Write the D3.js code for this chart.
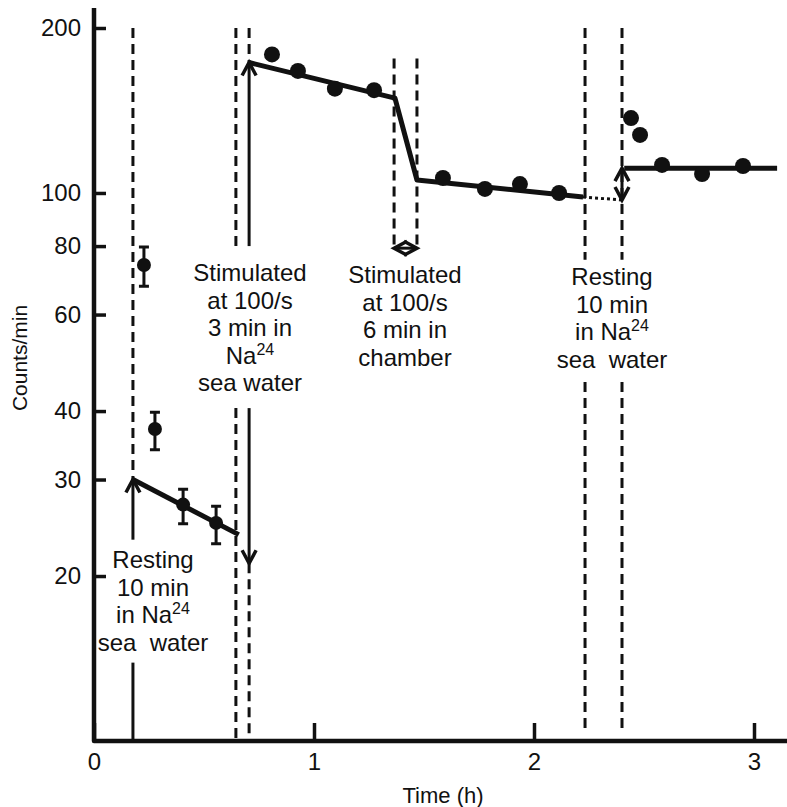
<!DOCTYPE html>
<html>
<head>
<meta charset="utf-8">
<script src="https://cdn.jsdelivr.net/npm/d3@7"></script>
<style>
body{margin:0;background:#fff;}
text{font-family:"Liberation Sans",Arial,sans-serif;fill:#111;}
</style>
</head>
<body>
<svg id="chart" width="787" height="807"></svg>
<script>
//data: time (h), counts/min
var restPts=[[0.227,73.9],[0.277,37.1],[0.405,27.0],[0.555,25.0]];
var restErr=[[67.6,79.7],[34.0,39.8],[24.9,28.8],[22.9,26.8]];
var stimPts=[[0.809,179],[0.927,167],[1.095,155],[1.273,154]];
var afterPts=[[1.586,106.5],[1.777,101.7],[1.936,103.8],[2.114,100.0]];
var rest2Pts=[[2.441,137],[2.482,127.6],[2.582,112.5],[2.764,108.3],[2.95,112]];
var fit1=[[0.177,30],[0.658,23.8]];
var fit2=[[0.705,173],[1.368,149],[1.468,105.6],[2.223,98.3]];
var fitGap=[[2.223,98.3],[2.4,97.1]];
var fit3=[[2.41,111],[3.105,111]];
var yTicks=[20,30,40,60,80,100,200];
var xTicks=[0,1,2,3];

//markers: [time, from, to]
var dashSegs=[[0.177,200,30],[0.645,200,80],[0.645,40.5,10],[0.705,200,173],[0.705,21.1,10],
  [1.364,176,80],[1.468,176,80],[2.232,200,75.5],[2.232,45.2,10.34],[2.4,200,75.5],[2.4,45.2,10.34]];
var solidSegs=[[0.177,13.9,10]];
var arrows=[[0.177,23.3,30],[0.705,80,173],[0.705,40.5,21.1]];
var dblArrowsV=[[2.4,97.1,111]];
var dblArrowsH=[[79.3,1.364,1.468]];

var note1=["Stimulated","at 100/s","3 min in","Na^24","sea water"];
var note2=["Stimulated","at 100/s","6 min in","chamber"];
var note3=["Resting","10 min","in Na^24","sea  water"];
var note4=["Resting","10 min","in Na^24","sea  water"];

var svg=d3.select("#chart");
var x=d3.scaleLinear().domain([0,3.15]).range([94,787]);
var y=d3.scaleLog().domain([10,200]).range([741,28]);

//dashed guides
svg.selectAll(".dash").data(dashSegs).enter().append("line")
  .attr("x1",function(d){return x(d[0]);}).attr("x2",function(d){return x(d[0]);})
  .attr("y1",function(d){return y(d[1]);}).attr("y2",function(d){return y(d[2]);})
  .attr("stroke","#111").attr("stroke-width",3).attr("stroke-dasharray","10,6");

svg.selectAll(".solid").data(solidSegs).enter().append("line")
  .attr("x1",function(d){return x(d[0]);}).attr("x2",function(d){return x(d[0]);})
  .attr("y1",function(d){return y(d[1]);}).attr("y2",function(d){return y(d[2]);})
  .attr("stroke","#111").attr("stroke-width",3);

//fitted lines
var line=d3.line().x(function(d){return x(d[0]);}).y(function(d){return y(d[1]);});
[fit1,fit2,fit3].forEach(function(f){
  svg.append("path").attr("d",line(f)).attr("fill","none").attr("stroke","#111")
    .attr("stroke-width",5).attr("stroke-linejoin","round");
});
svg.append("path").attr("d",line(fitGap)).attr("fill","none").attr("stroke","#111")
  .attr("stroke-width",3).attr("stroke-dasharray","3,3");

//arrows
function head(px,py,dx,dy){
  //chevron with tip at px,py pointing along dx,dy
  var nx=-dy,ny=dx,l=13,w=7;
  svg.append("path")
    .attr("d","M"+(px-dx*l+nx*w)+","+(py-dy*l+ny*w)+"L"+px+","+py+"L"+(px-dx*l-nx*w)+","+(py-dy*l-ny*w))
    .attr("fill","none").attr("stroke","#111").attr("stroke-width",3.5);
}
arrows.forEach(function(a){
  var px=x(a[0]),y1=y(a[1]),y2=y(a[2]);
  svg.append("line").attr("x1",px).attr("x2",px).attr("y1",y1).attr("y2",y2)
    .attr("stroke","#111").attr("stroke-width",3);
  head(px,y2,0,y2>y1?1:-1);
});
dblArrowsV.forEach(function(a){
  var px=x(a[0]),y1=y(a[1]),y2=y(a[2]);
  svg.append("line").attr("x1",px).attr("x2",px).attr("y1",y1).attr("y2",y2)
    .attr("stroke","#111").attr("stroke-width",3);
  head(px,y1,0,1);head(px,y2,0,-1);
});
dblArrowsH.forEach(function(a){
  var py=y(a[0]),x1=x(a[1]),x2=x(a[2]);
  svg.append("line").attr("x1",x1).attr("x2",x2).attr("y1",py).attr("y2",py)
    .attr("stroke","#111").attr("stroke-width",3);
  head(x1,py,-1,0);head(x2,py,1,0);
});

//error bars
svg.selectAll(".err").data(restPts).enter().append("path")
  .attr("d",function(d,i){
    var px=x(d[0]),lo=y(restErr[i][0]),hi=y(restErr[i][1]);
    return "M"+px+","+lo+"V"+hi+"M"+(px-5)+","+lo+"H"+(px+5)+"M"+(px-5)+","+hi+"H"+(px+5);
  })
  .attr("fill","none").attr("stroke","#111").attr("stroke-width",3);

svg.selectAll(".rdot").data(restPts).enter().append("circle")
  .attr("cx",function(d){return x(d[0]);}).attr("cy",function(d){return y(d[1]);})
  .attr("r",7).attr("fill","#111");
svg.selectAll(".dot").data(stimPts.concat(afterPts,rest2Pts)).enter().append("circle")
  .attr("cx",function(d){return x(d[0]);}).attr("cy",function(d){return y(d[1]);})
  .attr("r",8).attr("fill","#111");

//axes
var yAxis=d3.axisLeft(y).tickValues(yTicks).tickFormat(d3.format("d"))
  .tickSizeInner(-12).tickSizeOuter(0).tickPadding(13);
var gy=svg.append("g").attr("transform","translate("+x(0)+",0)").call(yAxis);
var xAxis=d3.axisBottom(x).tickValues(xTicks).tickFormat(d3.format("d"))
  .tickSizeInner(-18).tickSizeOuter(0).tickPadding(12);
var gx=svg.append("g").attr("transform","translate(0,741)").call(xAxis);
[gy,gx].forEach(function(g){
  g.select(".domain").remove();
  g.selectAll(".tick line").attr("stroke","#111").attr("stroke-width",3.5);
  g.selectAll(".tick text").attr("fill","#111").style("font-size","24px")
    .style("font-family","'Liberation Sans',Arial,sans-serif");
});
svg.append("path").attr("d","M"+x(0)+",8V741H787").attr("fill","none")
  .attr("stroke","#111").attr("stroke-width",4.5).attr("stroke-linejoin","round");

svg.append("text").attr("transform","translate(27,358) rotate(-90)")
  .attr("text-anchor","middle").style("font-size","21px").text("Counts/min");
svg.append("text").attr("x",443).attr("y",803).attr("text-anchor","middle")
  .style("font-size","22px").text("Time (h)");

//notes
function note(lines,cx,cy){
  lines.forEach(function(s,i){
    var t=svg.append("text").attr("x",cx).attr("y",cy+i*27.5+8)
      .attr("text-anchor","middle").style("font-size","24px").style("white-space","pre");
    var p=s.split("^");
    t.append("tspan").text(p[0]);
    if(p[1]){t.append("tspan").attr("dy",-9).style("font-size","16px").text(p[1]);}
  });
}
note(note1,250,273);
note(note2,405,275);
note(note3,612,277);
note(note4,153,560);
</script>
</body>
</html>
